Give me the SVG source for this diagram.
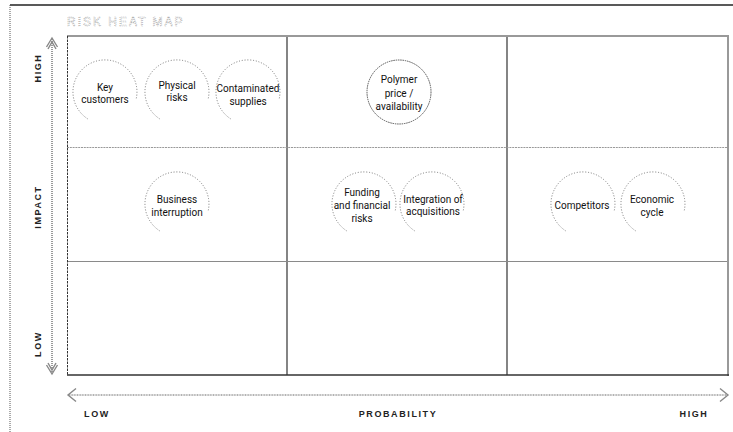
<svg xmlns="http://www.w3.org/2000/svg" width="733" height="432" viewBox="0 0 733 432">
<defs>
<style>
.bub{fill:none;stroke:#777;stroke-width:1;stroke-dasharray:1 1.8}
.bubf{fill:none;stroke:#555;stroke-width:1;stroke-dasharray:1.5 0.8}
.t{font-family:Roboto,"Liberation Sans",sans-serif;font-size:10px;fill:#111;text-anchor:middle}
.ax{font-family:"Liberation Sans",Arial,sans-serif;font-size:9px;font-weight:bold;fill:#222;letter-spacing:1.6px;text-anchor:middle}
.axl{fill:none;stroke:#9a9a9a;stroke-width:2;stroke-dasharray:1 1}
.axh{fill:none;stroke:#666;stroke-width:1;stroke-dasharray:1 0.6}
.head{fill:none;stroke:#888;stroke-width:1.4}
</style>
</defs>
<rect width="733" height="432" fill="#fff"/>
<!-- frame -->
<line x1="10" y1="5" x2="733" y2="5" stroke="#222" stroke-width="1.5"/>
<line x1="10" y1="5" x2="10" y2="432" stroke="#555" stroke-width="1" stroke-dasharray="1 1"/>
<text x="67" y="26" font-family="'Liberation Sans',Arial,sans-serif" font-size="12" letter-spacing="2" fill="none" stroke="#a8a8a8" stroke-width="0.7" stroke-dasharray="1 1">RISK HEAT MAP</text>
<!-- grid -->
<g id="grid">
<line x1="287" y1="36" x2="287" y2="375" stroke="#333" stroke-width="1.2"/>
<line x1="507" y1="36" x2="507" y2="375" stroke="#333" stroke-width="1.2"/>
<line x1="67" y1="147.5" x2="728" y2="147.5" stroke="#999" stroke-width="1.2" stroke-dasharray="2 0.8"/>
<line x1="67" y1="261.5" x2="728" y2="261.5" stroke="#8a8a8a" stroke-width="1.2"/>
<line x1="67" y1="36" x2="729" y2="36" stroke="#999" stroke-width="2"/>
<line x1="728" y1="35" x2="728" y2="376" stroke="#999" stroke-width="2"/>
<line x1="67" y1="375" x2="729" y2="375" stroke="#333" stroke-width="1.3"/>
<line x1="67.5" y1="36" x2="67.5" y2="375" stroke="#333" stroke-width="1" stroke-dasharray="2.5 1"/>
</g>
<!-- axes -->
<g id="connectors">
<line class="axl" x1="52" y1="39" x2="52" y2="373"/>
<path class="head" d="M46.5 47 L52 38 L57.5 47 M48 49 L52 42 L56 49"/>
<path class="head" d="M46.5 365 L52 374 L57.5 365 M48 363 L52 370 L56 363"/>
<line class="axh" x1="69" y1="395" x2="727" y2="395"/>
<path class="head" d="M76 388.5 L68 395 L76 401.5"/>
<path class="head" d="M720 388.5 L728 395 L720 401.5"/>
</g>
<text class="ax" transform="translate(41,68) rotate(-90)">HIGH</text>
<text class="ax" transform="translate(41,207) rotate(-90)">IMPACT</text>
<text class="ax" transform="translate(41,344) rotate(-90)">LOW</text>
<text class="ax" x="97" y="417">LOW</text>
<text class="ax" x="398" y="417">PROBABILITY</text>
<text class="ax" x="694" y="417">HIGH</text>
<!-- bubbles -->
<g id="key-customers">
<path class="bub" d="M87.6 118.8 A32 32 0 1 1 136 99.7"/>
<text class="t" x="105" y="91">Key</text>
<text class="t" x="105" y="103">customers</text>
</g>
<g id="physical-risks">
<path class="bub" d="M159.6 118.8 A32 32 0 1 1 208 99.7"/>
<text class="t" x="177" y="89">Physical</text>
<text class="t" x="177" y="101">risks</text>
</g>
<g id="contaminated-supplies">
<path class="bub" d="M230.6 118.8 A32 32 0 1 1 279 99.7"/>
<text class="t" x="248" y="92">Contaminated</text>
<text class="t" x="248" y="105">supplies</text>
</g>
<g id="polymer">
<circle class="bubf" cx="399" cy="92" r="32"/>
<text class="t" x="399" y="83">Polymer</text>
<text class="t" x="399" y="97">price /</text>
<text class="t" x="399" y="110">availability</text>
</g>
<g id="business-interruption">
<path class="bub" d="M159.6 230.8 A32 32 0 1 1 208 211.7"/>
<text class="t" x="177" y="203">Business</text>
<text class="t" x="177" y="216">interruption</text>
</g>
<g id="funding">
<path class="bub" d="M346.6 230.8 A32 32 0 1 1 395 211.7"/>
<text class="t" x="362" y="196">Funding</text>
<text class="t" x="362" y="209">and financial</text>
<text class="t" x="362" y="222">risks</text>
</g>
<g id="integration">
<path class="bub" d="M414.6 230.8 A32 32 0 1 1 463 211.7"/>
<text class="t" x="433" y="203">Integration of</text>
<text class="t" x="433" y="215">acquisitions</text>
</g>
<g id="competitors">
<path class="bub" d="M565.6 230.8 A32 32 0 1 1 614 211.7"/>
<text class="t" x="582" y="209">Competitors</text>
</g>
<g id="economic-cycle">
<path class="bub" d="M635.6 230.8 A32 32 0 1 1 684 211.7"/>
<text class="t" x="652" y="203">Economic</text>
<text class="t" x="652" y="216">cycle</text>
</g>
</svg>
